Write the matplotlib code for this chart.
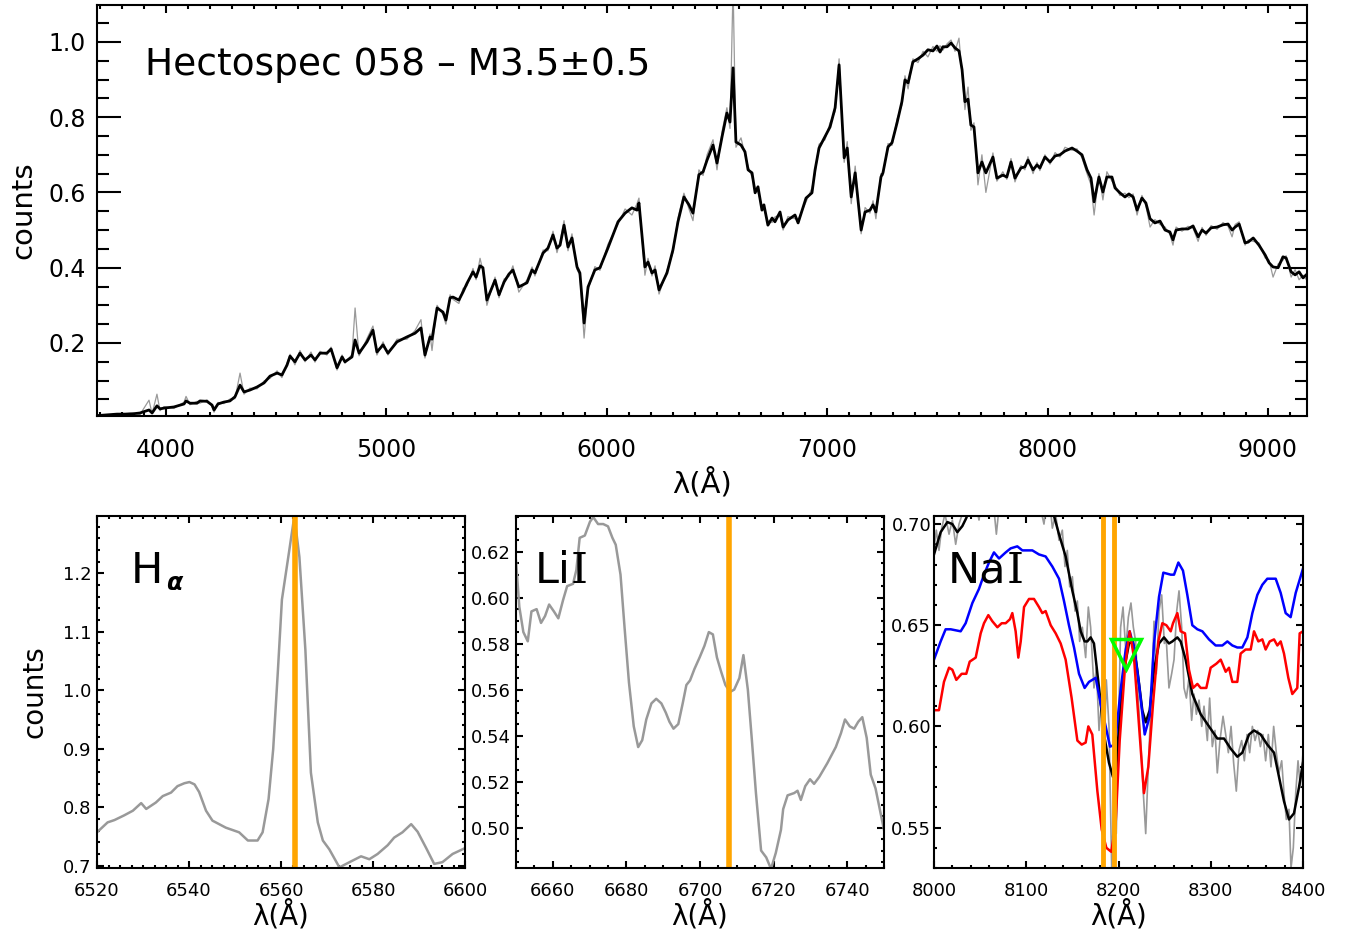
import numpy as np
import matplotlib
matplotlib.use("Agg")
import matplotlib.pyplot as plt
from matplotlib.ticker import MultipleLocator, FormatStrFormatter

plt.rcParams["font.family"] = ["DejaVu Sans"]

# ---- full spectrum (smoothed black + raw grey) ----
lam_top = [3687, 3778, 3837, 3882, 3923, 3937, 3959, 3973, 3991, 4036, 4082, 4091, 4109, 4141,
           4154, 4186, 4209, 4218, 4236, 4263, 4290, 4313, 4336, 4354, 4381, 4413, 4445, 4472,
           4504, 4526, 4549, 4563, 4585, 4608, 4631, 4658, 4676, 4699, 4730, 4749, 4776, 4799,
           4812, 4844, 4858, 4876, 4912, 4939, 4957, 4985, 5007, 5048, 5093, 5130, 5157, 5175,
           5198, 5207, 5230, 5257, 5270, 5289, 5302, 5329, 5348, 5366, 5393, 5407, 5425, 5438,
           5456, 5493, 5511, 5534, 5556, 5574, 5601, 5638, 5661, 5674, 5711, 5733, 5756, 5774,
           5788, 5806, 5824, 5842, 5865, 5878, 5897, 5915, 5946, 5969, 6005, 6051, 6083, 6114,
           6137, 6146, 6173, 6187, 6205, 6219, 6237, 6273, 6300, 6323, 6350, 6373, 6391, 6418,
           6437, 6455, 6482, 6500, 6523, 6545, 6559, 6573, 6586, 6609, 6627, 6641, 6659, 6673,
           6686, 6704, 6713, 6731, 6750, 6763, 6786, 6800, 6822, 6854, 6868, 6904, 6931, 6945,
           6963, 6990, 7013, 7036, 7054, 7077, 7091, 7109, 7127, 7154, 7172, 7194, 7208, 7221,
           7244, 7253, 7276, 7294, 7317, 7339, 7353, 7367, 7389, 7412, 7435, 7457, 7480, 7498,
           7512, 7525, 7544, 7562, 7580, 7598, 7612, 7625, 7639, 7652, 7666, 7684, 7702, 7720,
           7752, 7770, 7797, 7815, 7834, 7852, 7879, 7897, 7911, 7934, 7952, 7965, 7988, 8011,
           8034, 8056, 8079, 8111, 8133, 8156, 8179, 8197, 8211, 8233, 8251, 8269, 8292, 8306,
           8328, 8351, 8369, 8388, 8406, 8428, 8446, 8465, 8487, 8510, 8533, 8555, 8569, 8583,
           8610, 8637, 8660, 8683, 8701, 8719, 8742, 8769, 8796, 8819, 8837, 8851, 8869, 8896,
           8910, 8933, 8959, 8987, 9005, 9023, 9046, 9068, 9082, 9105, 9123, 9141, 9159, 9177]
smooth_top = [0.007, 0.011, 0.011, 0.014, 0.022, 0.014, 0.033, 0.025, 0.027, 0.030, 0.038, 0.046, 0.040, 0.040,
              0.046, 0.045, 0.035, 0.022, 0.038, 0.043, 0.046, 0.057, 0.088, 0.070, 0.075, 0.083, 0.094, 0.112,
              0.120, 0.115, 0.141, 0.165, 0.150, 0.173, 0.155, 0.168, 0.155, 0.173, 0.173, 0.184, 0.134, 0.163,
              0.150, 0.163, 0.208, 0.173, 0.203, 0.234, 0.176, 0.195, 0.173, 0.203, 0.216, 0.226, 0.240, 0.168,
              0.216, 0.210, 0.293, 0.282, 0.261, 0.320, 0.322, 0.314, 0.336, 0.359, 0.389, 0.375, 0.405, 0.400,
              0.314, 0.367, 0.328, 0.362, 0.383, 0.394, 0.349, 0.360, 0.394, 0.386, 0.439, 0.452, 0.487, 0.452,
              0.460, 0.513, 0.455, 0.479, 0.402, 0.386, 0.253, 0.349, 0.394, 0.400, 0.452, 0.522, 0.545, 0.559,
              0.553, 0.572, 0.402, 0.415, 0.386, 0.394, 0.341, 0.386, 0.447, 0.522, 0.588, 0.567, 0.545, 0.647,
              0.655, 0.686, 0.726, 0.678, 0.748, 0.811, 0.787, 0.931, 0.734, 0.726, 0.708, 0.660, 0.652, 0.599,
              0.615, 0.553, 0.567, 0.513, 0.532, 0.522, 0.548, 0.508, 0.527, 0.540, 0.519, 0.585, 0.599, 0.660,
              0.718, 0.748, 0.774, 0.825, 0.939, 0.692, 0.718, 0.588, 0.652, 0.500, 0.548, 0.553, 0.567, 0.548,
              0.641, 0.652, 0.721, 0.732, 0.785, 0.841, 0.899, 0.891, 0.947, 0.955, 0.965, 0.979, 0.976, 0.989,
              0.973, 0.987, 0.987, 0.997, 0.984, 0.976, 0.926, 0.841, 0.848, 0.779, 0.774, 0.652, 0.681, 0.652,
              0.694, 0.638, 0.646, 0.641, 0.681, 0.638, 0.665, 0.668, 0.686, 0.660, 0.673, 0.665, 0.694, 0.681,
              0.697, 0.700, 0.710, 0.718, 0.710, 0.700, 0.660, 0.638, 0.575, 0.641, 0.601, 0.641, 0.641, 0.612,
              0.599, 0.588, 0.596, 0.588, 0.553, 0.585, 0.572, 0.530, 0.519, 0.524, 0.500, 0.495, 0.474, 0.500,
              0.503, 0.503, 0.511, 0.482, 0.500, 0.492, 0.506, 0.508, 0.514, 0.516, 0.500, 0.508, 0.516, 0.466,
              0.468, 0.479, 0.460, 0.434, 0.413, 0.402, 0.400, 0.429, 0.426, 0.389, 0.381, 0.389, 0.373, 0.383]
raw_top = [0.009, 0.008, 0.015, 0.010, 0.048, 0.012, 0.064, 0.020, 0.031, 0.026, 0.043, 0.058, 0.036, 0.045,
           0.040, 0.049, 0.031, 0.016, 0.042, 0.039, 0.051, 0.052, 0.120, 0.064, 0.080, 0.078, 0.099, 0.106,
           0.126, 0.108, 0.147, 0.170, 0.142, 0.180, 0.150, 0.176, 0.149, 0.178, 0.168, 0.189, 0.128, 0.168,
           0.146, 0.170, 0.293, 0.166, 0.212, 0.245, 0.168, 0.203, 0.168, 0.210, 0.210, 0.233, 0.262, 0.160,
           0.224, 0.180, 0.300, 0.275, 0.250, 0.328, 0.316, 0.305, 0.345, 0.352, 0.398, 0.368, 0.425, 0.392,
           0.300, 0.375, 0.320, 0.370, 0.377, 0.405, 0.335, 0.368, 0.402, 0.378, 0.447, 0.445, 0.497, 0.440,
           0.470, 0.525, 0.445, 0.490, 0.395, 0.380, 0.213, 0.340, 0.403, 0.393, 0.462, 0.515, 0.556, 0.540,
           0.570, 0.585, 0.380, 0.425, 0.378, 0.405, 0.330, 0.393, 0.440, 0.532, 0.598, 0.556, 0.525, 0.660,
           0.645, 0.700, 0.740, 0.660, 0.762, 0.825, 0.770, 1.150, 0.720, 0.745, 0.700, 0.670, 0.640, 0.612,
           0.600, 0.565, 0.555, 0.525, 0.520, 0.535, 0.540, 0.500, 0.536, 0.530, 0.528, 0.575, 0.612, 0.650,
           0.728, 0.740, 0.785, 0.815, 0.955, 0.680, 0.735, 0.570, 0.670, 0.490, 0.560, 0.545, 0.578, 0.530,
           0.650, 0.645, 0.730, 0.725, 0.795, 0.832, 0.910, 0.875, 0.955, 0.945, 0.975, 0.960, 0.988, 0.975,
           0.990, 0.978, 0.995, 1.005, 0.975, 1.010, 0.915, 0.820, 0.880, 0.765, 0.785, 0.620, 0.700, 0.600,
           0.705, 0.630, 0.655, 0.635, 0.690, 0.628, 0.672, 0.660, 0.695, 0.650, 0.680, 0.658, 0.700, 0.675,
           0.706, 0.694, 0.720, 0.712, 0.716, 0.692, 0.650, 0.620, 0.540, 0.650, 0.580, 0.655, 0.630, 0.620,
           0.592, 0.598, 0.586, 0.596, 0.540, 0.592, 0.565, 0.508, 0.528, 0.515, 0.508, 0.488, 0.460, 0.508,
           0.497, 0.510, 0.505, 0.470, 0.507, 0.486, 0.512, 0.502, 0.520, 0.510, 0.482, 0.515, 0.522, 0.460,
           0.474, 0.470, 0.466, 0.426, 0.420, 0.375, 0.410, 0.420, 0.432, 0.375, 0.395, 0.368, 0.380, 0.366]

# ---- H alpha region ----
lam_ha = [6520.0, 6522.3, 6523.8, 6525.9, 6527.8, 6529.6, 6530.7, 6532.8, 6534.3, 6536.1, 6537.5,
          6539.0, 6540.1, 6541.2, 6542.2, 6543.7, 6545.1, 6548.0, 6550.9, 6552.8, 6553.8, 6554.9,
          6556.0, 6557.3, 6558.3, 6559.3, 6560.2, 6561.7, 6562.9, 6564.0, 6565.3, 6566.5, 6568.0,
          6569.1, 6570.5, 6572.7, 6574.9, 6577.4, 6579.2, 6581.0, 6583.2, 6584.6, 6586.4, 6588.3,
          6589.7, 6591.5, 6593.3, 6595.1, 6597.3, 6600.0]
flux_ha = [0.757, 0.774, 0.778, 0.786, 0.794, 0.807, 0.797, 0.808, 0.819, 0.825, 0.836,
           0.841, 0.843, 0.839, 0.826, 0.794, 0.777, 0.765, 0.757, 0.743, 0.743, 0.743,
           0.757, 0.814, 0.899, 1.030, 1.155, 1.234, 1.298, 1.228, 1.069, 0.859, 0.774,
           0.743, 0.728, 0.697, 0.706, 0.716, 0.711, 0.720, 0.735, 0.748, 0.757, 0.771,
           0.758, 0.731, 0.703, 0.706, 0.720, 0.730]

# ---- Li I region ----
lam_li = [6650.0, 6650.9, 6652.0, 6653.2, 6654.2, 6655.6, 6656.8, 6657.9, 6659.0, 6660.3, 6661.5,
          6662.8, 6663.9, 6665.5, 6666.4, 6667.3, 6668.7, 6670.1, 6671.0, 6672.3, 6673.7, 6675.0,
          6676.2, 6677.1, 6678.4, 6679.5, 6680.7, 6682.0, 6683.2, 6684.3, 6685.4, 6686.8, 6688.1,
          6689.5, 6690.7, 6691.7, 6692.8, 6694.1, 6695.3, 6696.3, 6697.3, 6698.5, 6699.9, 6701.2,
          6702.4, 6703.5, 6704.6, 6705.7, 6706.9, 6708.2, 6709.3, 6710.7, 6711.8, 6713.0, 6714.1,
          6715.2, 6716.6, 6718.0, 6719.3, 6720.6, 6722.0, 6722.6, 6723.8, 6725.6, 6726.5, 6727.4,
          6728.6, 6729.9, 6731.0, 6732.4, 6734.6, 6736.9, 6738.3, 6739.4, 6740.7, 6741.9, 6743.0,
          6744.1, 6745.3, 6746.4, 6747.7, 6750.0]
flux_li = [0.616, 0.596, 0.585, 0.581, 0.594, 0.595, 0.589, 0.592, 0.597, 0.594, 0.591,
           0.599, 0.605, 0.606, 0.612, 0.626, 0.627, 0.633, 0.635, 0.632, 0.632, 0.631,
           0.626, 0.623, 0.610, 0.587, 0.563, 0.544, 0.535, 0.538, 0.547, 0.554, 0.556,
           0.554, 0.550, 0.546, 0.543, 0.545, 0.554, 0.562, 0.564, 0.569, 0.574, 0.579,
           0.585, 0.584, 0.574, 0.568, 0.562, 0.559, 0.560, 0.565, 0.575, 0.560, 0.538,
           0.515, 0.490, 0.487, 0.482, 0.489, 0.499, 0.508, 0.514, 0.515, 0.516, 0.512,
           0.518, 0.521, 0.519, 0.522, 0.528, 0.535, 0.541, 0.547, 0.544, 0.543, 0.546,
           0.548, 0.539, 0.523, 0.517, 0.499]

# ---- Na I region: raw, smoothed, two templates ----
lam_na_raw = [8000.0, 8002.5, 8005.4, 8008.3, 8011.9, 8016.3, 8019.9, 8023.5, 8027.1, 8030.7,
              8040.0, 8045.0, 8048.8, 8055.0, 8064.0, 8067.6, 8072.0, 8085.0, 8100.0, 8112.0,
              8119.2, 8124.0, 8128.3, 8131.9, 8135.5, 8139.1, 8142.0, 8144.5, 8147.1, 8150.0,
              8152.8, 8155.4, 8157.9, 8160.8, 8164.4, 8167.3, 8169.8, 8173.4, 8176.0, 8178.9,
              8181.8, 8184.3, 8186.8, 8189.7, 8192.6, 8195.1, 8197.6, 8199.8, 8202.3, 8204.9,
              8207.8, 8210.7, 8213.5, 8216.1, 8218.6, 8221.5, 8224.0, 8226.9, 8229.5, 8231.6,
              8233.8, 8236.0, 8238.5, 8241.0, 8243.9, 8246.8, 8249.7, 8251.9, 8254.7, 8257.6,
              8260.2, 8263.1, 8265.6, 8268.5, 8271.0, 8273.6, 8276.4, 8279.3, 8281.8, 8284.4,
              8287.3, 8290.2, 8292.7, 8296.3, 8298.8, 8301.7, 8304.6, 8307.1, 8310.0, 8313.3,
              8316.2, 8319.1, 8322.0, 8324.8, 8327.7, 8330.6, 8333.5, 8336.4, 8339.3, 8342.2,
              8345.1, 8348.0, 8350.9, 8353.8, 8356.6, 8359.5, 8362.4, 8365.3, 8368.2, 8371.1,
              8374.0, 8376.9, 8379.4, 8381.9, 8384.8, 8387.0, 8389.5, 8392.1, 8394.6, 8397.1, 8400.0]
flux_na_raw = [0.688, 0.697, 0.687, 0.698, 0.705, 0.695, 0.702, 0.690, 0.700, 0.705,
               0.715, 0.710, 0.702, 0.725, 0.712, 0.695, 0.715, 0.730, 0.725, 0.715,
               0.700, 0.718, 0.698, 0.705, 0.692, 0.697, 0.679, 0.687, 0.669, 0.674,
               0.657, 0.662, 0.642, 0.649, 0.634, 0.659, 0.649, 0.619, 0.629, 0.598,
               0.613, 0.587, 0.623, 0.600, 0.530, 0.563, 0.547, 0.596, 0.649, 0.659,
               0.638, 0.654, 0.661, 0.649, 0.642, 0.613, 0.593, 0.567, 0.547, 0.572,
               0.596, 0.619, 0.652, 0.626, 0.657, 0.665, 0.641, 0.642, 0.619, 0.626,
               0.633, 0.657, 0.667, 0.649, 0.619, 0.614, 0.624, 0.603, 0.616, 0.606,
               0.613, 0.600, 0.610, 0.593, 0.614, 0.590, 0.598, 0.577, 0.593, 0.605,
               0.596, 0.587, 0.600, 0.582, 0.568, 0.588, 0.593, 0.583, 0.596, 0.587,
               0.600, 0.593, 0.598, 0.590, 0.596, 0.583, 0.596, 0.580, 0.600, 0.587,
               0.577, 0.583, 0.567, 0.554, 0.559, 0.530, 0.540, 0.567, 0.583, 0.570, 0.587]

lam_na_smooth = [8000.0, 8007.2, 8014.5, 8019.9, 8025.3, 8030.7, 8035.0, 8037.9, 8050.0, 8070.0,
                 8090.0, 8110.0, 8125.0, 8130.1, 8135.5, 8142.7, 8150.0, 8155.4, 8159.0, 8163.3,
                 8166.2, 8169.8, 8173.4, 8178.9, 8184.3, 8189.7, 8194.0, 8197.6, 8201.3, 8206.0,
                 8211.4, 8215.7, 8220.4, 8225.8, 8229.5, 8233.8, 8238.5, 8243.9, 8249.3, 8254.7,
                 8258.4, 8263.8, 8267.4, 8272.8, 8280.0, 8289.1, 8298.1, 8307.1, 8314.4, 8321.6,
                 8328.8, 8334.2, 8341.5, 8346.9, 8354.1, 8361.3, 8368.6, 8374.0, 8379.4, 8384.8,
                 8390.2, 8395.7, 8400.0]
flux_na_smooth = [0.685, 0.696, 0.701, 0.700, 0.696, 0.699, 0.703, 0.707, 0.712, 0.715,
                  0.720, 0.718, 0.708, 0.704, 0.695, 0.684, 0.667, 0.656, 0.647, 0.642,
                  0.642, 0.644, 0.641, 0.619, 0.596, 0.582, 0.575, 0.580, 0.605, 0.628,
                  0.641, 0.642, 0.628, 0.608, 0.602, 0.608, 0.628, 0.641, 0.644, 0.641,
                  0.642, 0.644, 0.642, 0.633, 0.616, 0.606, 0.600, 0.594, 0.594, 0.589,
                  0.585, 0.587, 0.596, 0.598, 0.596, 0.591, 0.587, 0.575, 0.563, 0.554,
                  0.557, 0.570, 0.582]

lam_na_blue = [8000.0, 8007.2, 8012.6, 8018.1, 8028.9, 8034.3, 8041.6, 8048.8, 8054.2, 8059.6,
               8065.0, 8070.5, 8077.7, 8083.1, 8090.3, 8095.8, 8101.2, 8106.6, 8113.8, 8121.0,
               8128.3, 8135.5, 8140.9, 8146.3, 8151.8, 8157.2, 8163.3, 8168.0, 8175.3, 8180.7,
               8186.1, 8190.8, 8196.2, 8202.3, 8207.8, 8212.1, 8216.8, 8222.2, 8228.4, 8233.8,
               8238.5, 8243.9, 8248.6, 8256.6, 8260.2, 8264.9, 8269.9, 8274.6, 8280.0, 8285.5,
               8290.9, 8298.1, 8305.3, 8312.6, 8318.0, 8323.4, 8328.8, 8334.2, 8339.7, 8345.1,
               8350.5, 8355.9, 8361.3, 8370.4, 8375.8, 8381.2, 8386.6, 8392.1, 8400.0]
flux_na_blue = [0.633, 0.642, 0.648, 0.648, 0.647, 0.651, 0.661, 0.668, 0.675, 0.681,
                0.686, 0.683, 0.686, 0.688, 0.689, 0.687, 0.687, 0.687, 0.685, 0.684,
                0.679, 0.673, 0.662, 0.650, 0.639, 0.626, 0.619, 0.622, 0.624, 0.611,
                0.600, 0.590, 0.591, 0.618, 0.638, 0.647, 0.639, 0.621, 0.596, 0.605,
                0.641, 0.664, 0.676, 0.675, 0.675, 0.681, 0.677, 0.665, 0.650, 0.648,
                0.647, 0.643, 0.640, 0.640, 0.642, 0.640, 0.639, 0.639, 0.644, 0.656,
                0.665, 0.670, 0.673, 0.673, 0.666, 0.656, 0.654, 0.666, 0.678]

lam_na_red = [8000.0, 8005.4, 8010.8, 8016.3, 8019.9, 8024.2, 8030.0, 8035.0, 8038.7, 8045.2,
              8050.6, 8054.2, 8058.9, 8063.2, 8068.7, 8073.4, 8077.7, 8082.4, 8084.9, 8088.5,
              8091.4, 8094.0, 8097.6, 8103.0, 8108.4, 8113.8, 8117.4, 8121.0, 8126.5, 8131.9,
              8137.3, 8142.7, 8149.2, 8155.4, 8160.1, 8164.4, 8167.3, 8171.6, 8177.1, 8181.8,
              8186.8, 8192.2, 8196.9, 8201.3, 8207.0, 8212.1, 8216.8, 8221.5, 8227.6, 8232.3,
              8237.4, 8243.2, 8247.5, 8251.9, 8256.6, 8259.1, 8263.8, 8267.4, 8272.1, 8276.4,
              8280.8, 8285.5, 8289.1, 8295.2, 8299.9, 8306.1, 8310.8, 8316.2, 8319.8, 8323.4,
              8328.8, 8332.4, 8337.8, 8343.3, 8346.9, 8351.6, 8355.9, 8359.5, 8363.9, 8368.6,
              8372.2, 8375.8, 8379.4, 8384.1, 8388.4, 8393.8, 8396.4, 8400.0]
flux_na_red = [0.608, 0.608, 0.622, 0.629, 0.628, 0.623, 0.626, 0.626, 0.632, 0.634,
               0.646, 0.651, 0.655, 0.652, 0.649, 0.651, 0.651, 0.653, 0.656, 0.647,
               0.634, 0.642, 0.659, 0.663, 0.663, 0.659, 0.656, 0.657, 0.650, 0.646,
               0.641, 0.633, 0.614, 0.593, 0.591, 0.592, 0.600, 0.596, 0.568, 0.549,
               0.540, 0.538, 0.552, 0.593, 0.629, 0.647, 0.634, 0.605, 0.567, 0.580,
               0.611, 0.642, 0.651, 0.650, 0.647, 0.651, 0.656, 0.647, 0.646, 0.628,
               0.619, 0.621, 0.619, 0.619, 0.629, 0.631, 0.633, 0.627, 0.629, 0.622,
               0.622, 0.636, 0.638, 0.638, 0.647, 0.642, 0.643, 0.638, 0.642, 0.643,
               0.640, 0.642, 0.636, 0.624, 0.616, 0.619, 0.646, 0.647]

ha_line = [6563.0]
li_line = [6708.0]
na_lines = [8183.0, 8195.0]
na_marker_lam = 8208.0
na_marker_flux = 0.636

GREY = "#999999"
ORANGE = "#FFA500"

W, H = 1348, 933
fig = plt.figure(figsize=(W / 100, H / 100), dpi=100)


def style_axes(ax, xmaj, xmin, ymaj, ymin, xlen, ylen, fs, xpad, ypad):
    ax.xaxis.set_major_locator(MultipleLocator(xmaj))
    ax.xaxis.set_minor_locator(MultipleLocator(xmin))
    ax.yaxis.set_major_locator(MultipleLocator(ymaj))
    ax.yaxis.set_minor_locator(MultipleLocator(ymin))
    ax.tick_params(axis="x", which="major", direction="in", top=True, bottom=True,
                   length=xlen, width=1.5, labelsize=fs, pad=xpad)
    ax.tick_params(axis="x", which="minor", direction="in", top=True, bottom=True,
                   length=xlen / 2, width=1.5)
    ax.tick_params(axis="y", which="major", direction="in", left=True, right=True,
                   length=ylen, width=1.5, labelsize=fs, pad=ypad)
    ax.tick_params(axis="y", which="minor", direction="in", left=True, right=True,
                   length=ylen / 2, width=1.5)
    for sp in ax.spines.values():
        sp.set_linewidth(1.5)


# top panel
ax0 = fig.add_axes([97 / W, 1 - 416 / H, 1210 / W, 411 / H])
ax0.plot(lam_top, raw_top, color=GREY, lw=0.9)
ax0.plot(lam_top, smooth_top, color="black", lw=2.0)
ax0.set_xlim(3687, 9177)
ax0.set_ylim(0.006, 1.098)
style_axes(ax0, 1000, 100, 0.2, 0.05, 6, 17, 17, 16, 8)
ax0.yaxis.set_major_formatter(FormatStrFormatter("%.1f"))
ax0.set_xlabel("λ(Å)", fontsize=21, labelpad=4)
ax0.set_ylabel("counts", fontsize=21, labelpad=8)
ax0.text(0.04, 0.83, "Hectospec 058 – M3.5±0.5", transform=ax0.transAxes,
         fontsize=27, va="baseline", ha="left")

bw, bh = 368 / W, 352 / H
by = 1 - 868 / H

# H alpha
ax1 = fig.add_axes([97 / W, by, bw, bh])
ax1.plot(lam_ha, flux_ha, color=GREY, lw=1.8)
for l in ha_line:
    ax1.axvline(l, color=ORANGE, lw=4)
ax1.set_xlim(6520, 6600)
ax1.set_ylim(0.696, 1.298)
style_axes(ax1, 20, 2.5, 0.1, 0.02, 5, 5, 13, 10, 4)
ax1.yaxis.set_major_formatter(FormatStrFormatter("%.1f"))
ax1.set_xlabel("λ(Å)", fontsize=20, labelpad=0)
ax1.set_ylabel("counts", fontsize=20, labelpad=10)
t = ax1.text(0.092, 0.81, "H", transform=ax1.transAxes, fontsize=31, va="baseline")
ax1.annotate("α", xy=(1, 0), xycoords=t, xytext=(2, -2), textcoords="offset points",
             fontsize=17, fontweight="bold", style="italic", va="bottom", ha="left")

# Li I
ax2 = fig.add_axes([516 / W, by, bw, bh])
ax2.plot(lam_li, flux_li, color=GREY, lw=1.8)
for l in li_line:
    ax2.axvline(l, color=ORANGE, lw=4)
ax2.set_xlim(6650, 6750)
ax2.set_ylim(0.4824, 0.6355)
style_axes(ax2, 20, 5, 0.02, 0.005, 5, 5, 13, 10, 4)
ax2.yaxis.set_major_formatter(FormatStrFormatter("%.2f"))
ax2.set_xlabel("λ(Å)", fontsize=20, labelpad=0)
t = ax2.text(0.052, 0.81, "Li", transform=ax2.transAxes, fontsize=31, va="baseline")
ax2.annotate("I", xy=(1, 0), xycoords=t, xytext=(0, 0), textcoords="offset points",
             fontsize=31, family="DejaVu Serif", va="bottom", ha="left")

# Na I
ax3 = fig.add_axes([934 / W, by, 369 / W, bh])
ax3.plot(lam_na_raw, flux_na_raw, color=GREY, lw=1.2)
ax3.plot(lam_na_smooth, flux_na_smooth, color="black", lw=1.8)
ax3.plot(lam_na_blue, flux_na_blue, color="blue", lw=1.8)
ax3.plot(lam_na_red, flux_na_red, color="red", lw=1.8)
for l in na_lines:
    ax3.axvline(l, color=ORANGE, lw=3.5)
ax3.plot([na_marker_lam], [na_marker_flux], marker="v", ms=22, mfc="none",
         mec="#00FF00", mew=2.5, ls="none")
ax3.set_xlim(8000, 8400)
ax3.set_ylim(0.530, 0.704)
style_axes(ax3, 100, 20, 0.05, 0.01, 5, 5, 13, 10, 2)
ax3.yaxis.set_major_formatter(FormatStrFormatter("%.2f"))
ax3.set_xlabel("λ(Å)", fontsize=20, labelpad=0)
t = ax3.text(0.038, 0.81, "Na", transform=ax3.transAxes, fontsize=31, va="baseline")
ax3.annotate("I", xy=(1, 0), xycoords=t, xytext=(0, 0), textcoords="offset points",
             fontsize=31, family="DejaVu Serif", va="bottom", ha="left")

fig.savefig("out.png", dpi=100)
